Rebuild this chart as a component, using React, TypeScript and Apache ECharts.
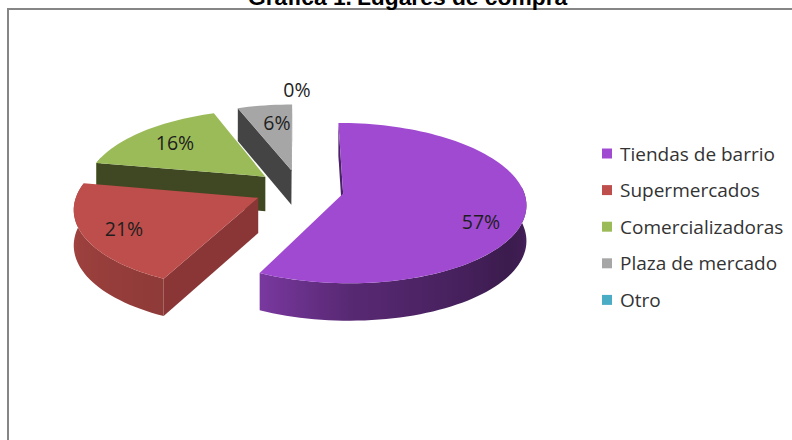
import React, { useEffect, useRef } from "react";
import * as echarts from "echarts";

const categories = ["Tiendas de barrio", "Supermercados", "Comercializadoras", "Plaza de mercado", "Otro"];
const shares = [57.2, 20.8, 16.4, 5.6, 0];
const colors = ["#A04AD2", "#BE4E4B", "#9BBB59", "#A6A6A6", "#4BACC6"];
const sideColors = ["#4A2268", "#8A3636", "#3F4822", "#444444", "#2F6B7C"];
const labelAnchors: [number, number][] = [[481, 221], [124, 228], [175, 142], [277, 122], [297, 89]];

const CX = 299, CY = 189, RADIUS = 180, EXPLODE = 45, TILT = 0.433, PERSP = 0.12, DEPTH = 35;

const project = (u: number, v: number) => {
  const s = 1 / (1 + (PERSP * v) / RADIUS);
  return { x: CX + u * s, y: CY - TILT * v * s, h: DEPTH * Math.sqrt(s) };
};
const shadeStops = [[0, 0.42], [90, 0.44], [125, 0.37], [180, 0.55], [205, 0.75], [270, 0.86], [360, 0.86]];
const rimShade = (deg: number) => {
  for (let i = 1; i < shadeStops.length; i++) {
    if (deg <= shadeStops[i][0]) {
      const t = (deg - shadeStops[i - 1][0]) / (shadeStops[i][0] - shadeStops[i - 1][0]);
      return shadeStops[i - 1][1] + t * (shadeStops[i][1] - shadeStops[i - 1][1]);
    }
  }
  return 0.86;
};
const shade = (hex: string, f: number) => {
  const n = parseInt(hex.slice(1), 16);
  return `rgb(${Math.round((n >> 16) * f)},${Math.round(((n >> 8) & 255) * f)},${Math.round((n & 255) * f)})`;
};

const total = shares.reduce((a, b) => a + b, 0);

function sliceShapes(index: number) {
  const before = shares.slice(0, index).reduce((a, b) => a + b, 0);
  const a0 = (before / total) * 360;
  const a1 = ((before + shares[index]) / total) * 360;
  const children: any[] = [];
  if (a1 - a0 > 0) {
    const mid = (((a0 + a1) / 2) * Math.PI) / 180;
    const ou = EXPLODE * Math.sin(mid), ov = EXPLODE * Math.cos(mid);
    const apex = project(ou, ov);
    const rim = (deg: number) => {
      const r = (deg * Math.PI) / 180;
      return project(ou + RADIUS * Math.sin(r), ov + RADIUS * Math.cos(r));
    };
    const arc = (from: number, to: number) => {
      const steps = Math.max(4, Math.round((to - from) / 2));
      return Array.from({ length: steps + 1 }, (_, i) => rim(from + ((to - from) * i) / steps));
    };
    const pts = arc(a0, a1);
    // curved wall: only the part that can face the viewer
    const from = Math.max(a0, 85), to = Math.min(a1, 285);
    if (to > from) {
      const wall = arc(from, to);
      const gFrom = Math.max(a0, 90), gTo = Math.min(a1, 270);
      const samples = arc(gFrom, gTo).map((p, i, all) => ({
        x: p.x, f: rimShade(gFrom + ((gTo - gFrom) * i) / (all.length - 1)),
      })).sort((a, b) => a.x - b.x);
      const x0 = samples[0].x, x1 = samples[samples.length - 1].x;
      const fill = new echarts.graphic.LinearGradient(
        x0, 0, x1, 0,
        samples.map((s) => ({ offset: (s.x - x0) / (x1 - x0), color: shade(colors[index], s.f) })),
        true,
      );
      children.push({
        type: "polygon", silent: true,
        shape: {
          points: [
            ...wall.map((p) => [p.x, p.y]),
            ...wall.slice().reverse().map((p) => [p.x, p.y + p.h]),
          ],
        },
        style: { fill },
      });
    }
    // flat cut faces, skipped when they turn away from the viewer
    const face = (q: any) => ({
      type: "polygon", silent: true,
      shape: { points: [[apex.x, apex.y], [q.x, q.y], [q.x, q.y + q.h], [apex.x, apex.y + apex.h]] },
      style: { fill: sideColors[index] },
    });
    const first = pts[0], last = pts[pts.length - 1];
    if (first.x < apex.x) children.push(face(first));
    if (last.x > apex.x) children.push(face(last));
    children.push({
      type: "polygon", silent: true,
      shape: { points: [[apex.x, apex.y], ...pts.map((p) => [p.x, p.y])] },
      style: { fill: colors[index] },
    });
  }
  const [lx, ly] = labelAnchors[index];
  children.push({
    type: "text", silent: true, x: lx, y: ly,
    style: {
      text: `${Math.round(shares[index])}%`, fill: "#1e1e1e", align: "center", verticalAlign: "middle",
      font: '19.5px "Open Sans"',
    },
  });
  return { type: "group", children };
}

export default function App() {
  const ref = useRef<HTMLDivElement>(null);
  useEffect(() => {
    document.body.style.margin = "0";
    const chart = echarts.init(ref.current!, null, { renderer: "svg" });
    chart.setOption({
      animation: false,
      backgroundColor: "#fff",
      title: {
        text: "{b|Gráfica 1.} {n|Lugares de compra}",
        left: 248, top: -15, padding: 0,
        textStyle: {
          rich: {
            b: { fontFamily: "Liberation Sans", fontSize: 22.8, fontWeight: "bold", color: "#000" },
            n: { fontFamily: "Liberation Sans", fontSize: 22.8, color: "#000" },
          },
        },
      },
      legend: {
        orient: "vertical", left: 597, top: 136, itemWidth: 10, itemHeight: 10, itemGap: 11.6,
        icon: "rect", data: categories,
        textStyle: { fontFamily: "Open Sans", fontSize: 19, color: "#333", padding: [0, 0, 0, 3], lineHeight: 25 },
      },
      graphic: [{
        type: "rect", silent: true, z: -1,
        shape: { x: 8, y: 9, width: 800, height: 440 },
        style: { fill: "none", stroke: "#868686", lineWidth: 2 },
      }],
      series: categories.map((name, i) => ({
        name, type: "custom", coordinateSystem: "none", z: 10 - i,
        itemStyle: { color: colors[i] },
        data: [shares[i]],
        renderItem: () => sliceShapes(i),
      })),
    });
    return () => chart.dispose();
  }, []);
  return <div ref={ref} style={{ width: 792, height: 440 }} />;
}
